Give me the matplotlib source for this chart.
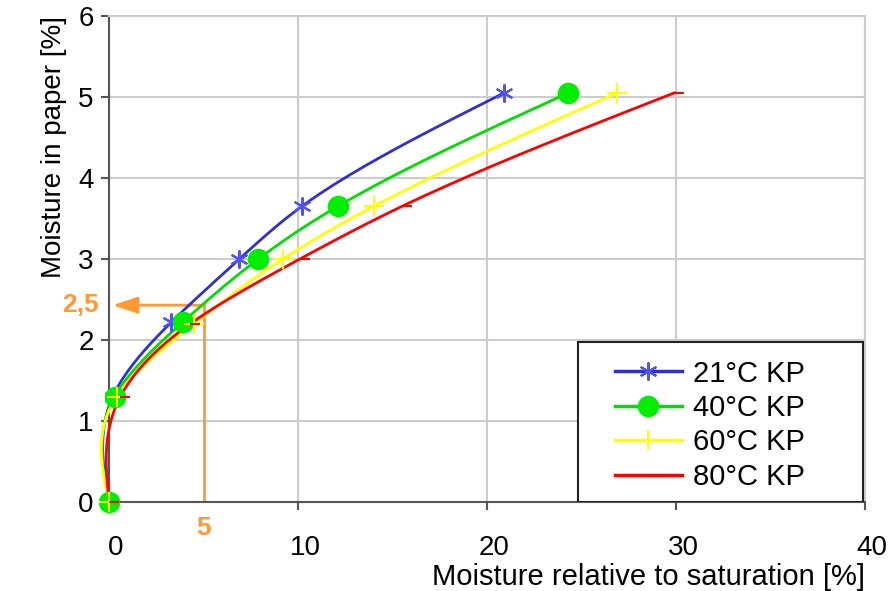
import numpy as np
import matplotlib
matplotlib.use('Agg')
import matplotlib.pyplot as plt
from matplotlib.path import Path
from matplotlib.patches import Rectangle
from matplotlib.transforms import ScaledTranslation

plt.rcParams['font.family'] = ['Liberation Sans', 'DejaVu Sans']

# Data
labels = ['21°C KP', '40°C KP', '60°C KP', '80°C KP']
x_21 = [0.0, 0.2, 3.3, 6.9, 10.2, 20.9]
y_21 = [0.0, 1.3, 2.22, 3.0, 3.65, 5.05]
x_40 = [0.0, 0.3, 3.9, 7.9, 12.1, 24.3]
y_40 = [0.0, 1.3, 2.22, 3.0, 3.65, 5.05]
x_60 = [0.0, 0.4, 4.5, 9.2, 14.0, 26.9]
y_60 = [0.0, 1.3, 2.2, 3.0, 3.65, 5.05]
x_80 = [0.0, 0.6, 4.3, 10.1, 15.5, 29.9]
y_80 = [0.0, 1.3, 2.2, 3.0, 3.65, 5.05]

mark_x = 5
mark_y = 2.43


def natural_spline(t, v, tt):
    n = len(t)
    h = np.diff(t)
    A = np.zeros((n, n))
    b = np.zeros(n)
    A[0, 0] = A[-1, -1] = 1
    for i in range(1, n - 1):
        A[i, i - 1] = h[i - 1]
        A[i, i] = 2 * (h[i - 1] + h[i])
        A[i, i + 1] = h[i]
        b[i] = 6 * ((v[i + 1] - v[i]) / h[i] - (v[i] - v[i - 1]) / h[i - 1])
    M = np.linalg.solve(A, b)
    idx = np.clip(np.searchsorted(t, tt) - 1, 0, n - 2)
    t0, t1 = t[idx], t[idx + 1]
    hh = t1 - t0
    a = (t1 - tt) / hh
    c = (tt - t0) / hh
    return (a * v[idx] + c * v[idx + 1]
            + ((a ** 3 - a) * M[idx] + (c ** 3 - c) * M[idx + 1]) * hh ** 2 / 6)


def smooth(xs, ys):
    # smooth the line with a cubic spline of x over y
    ys = np.asarray(ys, float)
    yy = np.linspace(ys[0], ys[-1], 400)
    return natural_spline(ys, np.asarray(xs, float), yy), yy


dash_right = Path([(0, 0), (1, 0)], [Path.MOVETO, Path.LINETO])

series = [
    (x_21, y_21, '#3030d0', '#5050ff', (6, 2, 0), 13),
    (x_40, y_40, '#00dd00', '#00ee00', 'o', 14),
    (x_60, y_60, '#ffff00', '#ffff00', '+', 14),
    (x_80, y_80, '#ff0000', '#ff0000', dash_right, 14),
]

fig = plt.figure(figsize=(8.89, 5.91), dpi=100)
ax = fig.add_axes([109 / 889, 89 / 591, 756 / 889, 486 / 591])

for (xs, ys, lc, mc, mk, ms), lab in zip(series, labels):
    sx, sy = smooth(xs, ys)
    ax.plot(sx, sy, color=lc, lw=2, zorder=3, clip_on=False)
    ax.plot(xs, ys, ls='none', marker=mk, ms=ms, color=mc, mec=mc, mew=1.5,
            zorder=4, clip_on=False)
    ax.plot([], [], color=lc, lw=2.5, marker=mk, ms=ms, mec=mc, mfc=mc, mew=1.5, label=lab)

# orange reading guide
orange = '#ff9933'
ax.plot([mark_x, mark_x], [0, mark_y], color=orange, lw=2, zorder=2)
ax.annotate('', xy=(0.2, mark_y), xytext=(mark_x + 0.05, mark_y),
            arrowprops=dict(arrowstyle='-|>,head_length=1.5,head_width=0.5',
                            color=orange, lw=2, shrinkA=0, shrinkB=0), zorder=2)
ax.text(mark_x, -0.32, '5', color=orange, fontsize=19, fontweight='bold',
        ha='center', va='center', clip_on=False)
ax.text(-29 / 18.9, mark_y, '2,5', color=orange, fontsize=19, fontweight='bold',
        ha='center', va='center', clip_on=False)

ax.set_xlim(0, 40)
ax.set_ylim(0, 6)
ax.set_xticks([0, 10, 20, 30, 40])
ax.set_yticks(range(7))
ax.grid(True, color='#cccccc', lw=1.5)
ax.set_axisbelow(True)
for s in ['top', 'right']:
    ax.spines[s].set_color('#cccccc')
    ax.spines[s].set_linewidth(1.5)
for s in ['left', 'bottom']:
    ax.spines[s].set_color('#555555')
    ax.spines[s].set_linewidth(1.5)
ax.tick_params(axis='both', colors='#555555', labelcolor='black', labelsize=20,
               length=6, width=1.5)
ax.tick_params(axis='x', pad=18)
ax.tick_params(axis='y', pad=5)
shift = ScaledTranslation(0.07, 0, fig.dpi_scale_trans)
for t in ax.get_xticklabels():
    t.set_transform(t.get_transform() + shift)

ax.set_xlabel('Moisture relative to saturation [%]', fontsize=21, loc='right', labelpad=1)
ax.set_ylabel('Moisture in paper [%]', fontsize=20, loc='top', labelpad=8)

# legend box drawn to the size used in the reference
ax.add_patch(Rectangle((578 / 889, 89 / 591), 285 / 889, 160 / 591,
                       transform=fig.transFigure, facecolor='white',
                       edgecolor='#222222', lw=1.5, zorder=5))
leg = ax.legend(loc='upper left', bbox_to_anchor=(600 / 889, 1 - 345 / 591),
                bbox_transform=fig.transFigure, fontsize=21, frameon=False,
                borderpad=0, handlelength=2.3, handletextpad=0.4,
                labelspacing=0.22)
leg.set_zorder(6)

fig.savefig('out.png', dpi=100)
